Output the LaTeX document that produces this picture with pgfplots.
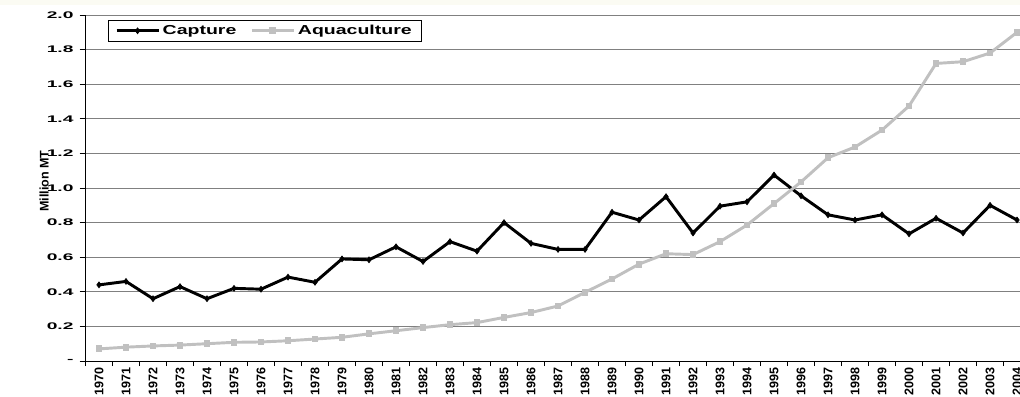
\documentclass[border=0pt]{standalone}
\usepackage{pgfplots}
\pgfplotsset{compat=1.18}
\usepackage{fontspec}
\setmainfont{Liberation Sans}
\usetikzlibrary{plotmarks}
\definecolor{aqua}{HTML}{C0C0C0}
\definecolor{gridc}{HTML}{808080}
\definecolor{cream}{HTML}{FBFBF3}
\newcommand\ylab[1]{\scalebox{2}[1]{\fontsize{7.2}{8}\selectfont\bfseries #1}}
\newcommand\lglab[1]{\scalebox{1.5}[1]{\fontsize{9.75}{10}\selectfont\bfseries #1}}
\begin{document}
\begin{tikzpicture}
\path[use as bounding box] (-64.125pt,-26.25pt) rectangle (700.875pt,270.75pt);
\fill[cream] (-64.125pt,267pt) rectangle (700.875pt,270.75pt);
\begin{axis}[
  name=ax,
  scale only axis,
  width=700.875pt, height=259.5pt,
  xmin=1969.5, xmax=2004.11,
  ymin=0, ymax=2.0,
  axis x line*=bottom, axis y line*=left,
  axis line style={black, line width=0.75pt},
  xtick={1970,...,2004},
  xticklabels={1970,1971,1972,1973,1974,1975,1976,1977,1978,1979,1980,1981,1982,1983,1984,1985,1986,1987,1988,1989,1990,1991,1992,1993,1994,1995,1996,1997,1998,1999,2000,2001,2002,2003,2004},
  xticklabel style={rotate=90, anchor=east, yshift=0pt, inner sep=0pt, font=\fontsize{9.4}{10}\selectfont\bfseries},
  major x tick style={draw=none},
  minor xtick={1969.5,1970.5,...,2004.5},
  minor x tick style={black, line width=0.6pt},
  minor tick length=3.75pt,
  tick align=outside,
  ytick={0,0.2,...,2.0},
  yticklabels={\ylab{-},\ylab{0.2},\ylab{0.4},\ylab{0.6},\ylab{0.8},\ylab{1.0},\ylab{1.2},\ylab{1.4},\ylab{1.6},\ylab{1.8},\ylab{2.0}},
  major y tick style={black, line width=0.6pt},
  major tick length=4.5pt,
  yticklabel style={xshift=-1pt},
  ymajorgrids,
  grid style={gridc, line width=0.75pt},
  legend columns=2,
  legend style={at={(0.0241,0.9855)}, anchor=north west, draw=black, line width=0.6pt, fill=white,
    inner xsep=5pt, inner ysep=1.5pt,
    /tikz/every even column/.append style={column sep=8.5pt}},
  legend cell align=left,
  legend image code/.code={\draw[mark repeat=2,mark phase=2] plot coordinates {(0pt,0pt) (15.75pt,0pt) (31.5pt,0pt)};},
]
\addplot[black, line width=2.2pt, mark=diamond*, mark size=2.2pt, mark options={line width=0.5pt}] coordinates {
(1970,0.44) (1971,0.46) (1972,0.36) (1973,0.43) (1974,0.36) (1975,0.42) (1976,0.415) (1977,0.485) (1978,0.455) (1979,0.59)
(1980,0.585) (1981,0.66) (1982,0.575) (1983,0.69) (1984,0.635) (1985,0.80) (1986,0.68) (1987,0.645) (1988,0.645) (1989,0.86)
(1990,0.815) (1991,0.95) (1992,0.74) (1993,0.895) (1994,0.92) (1995,1.075) (1996,0.955) (1997,0.845) (1998,0.815) (1999,0.845)
(2000,0.735) (2001,0.825) (2002,0.74) (2003,0.90) (2004,0.815)};
\addlegendentry{\lglab{Capture}}
\addplot[aqua, line width=2.2pt, mark=square*, mark size=2.2pt, mark options={line width=0pt}] coordinates {
(1970,0.07) (1971,0.08) (1972,0.087) (1973,0.092) (1974,0.10) (1975,0.108) (1976,0.11) (1977,0.117) (1978,0.127) (1979,0.137)
(1980,0.157) (1981,0.175) (1982,0.193) (1983,0.21) (1984,0.222) (1985,0.252) (1986,0.28) (1987,0.318) (1988,0.397) (1989,0.474)
(1990,0.56) (1991,0.62) (1992,0.615) (1993,0.69) (1994,0.786) (1995,0.91) (1996,1.035) (1997,1.175) (1998,1.237) (1999,1.335)
(2000,1.474) (2001,1.72) (2002,1.73) (2003,1.78) (2004,1.90)};
\addlegendentry{\lglab{Aquaculture}}
\end{axis}
\node[rotate=90, anchor=center, font=\fontsize{9.4}{10}\selectfont\bfseries] at (-31.1pt,134.9pt) {Million MT};
\end{tikzpicture}
\end{document}
